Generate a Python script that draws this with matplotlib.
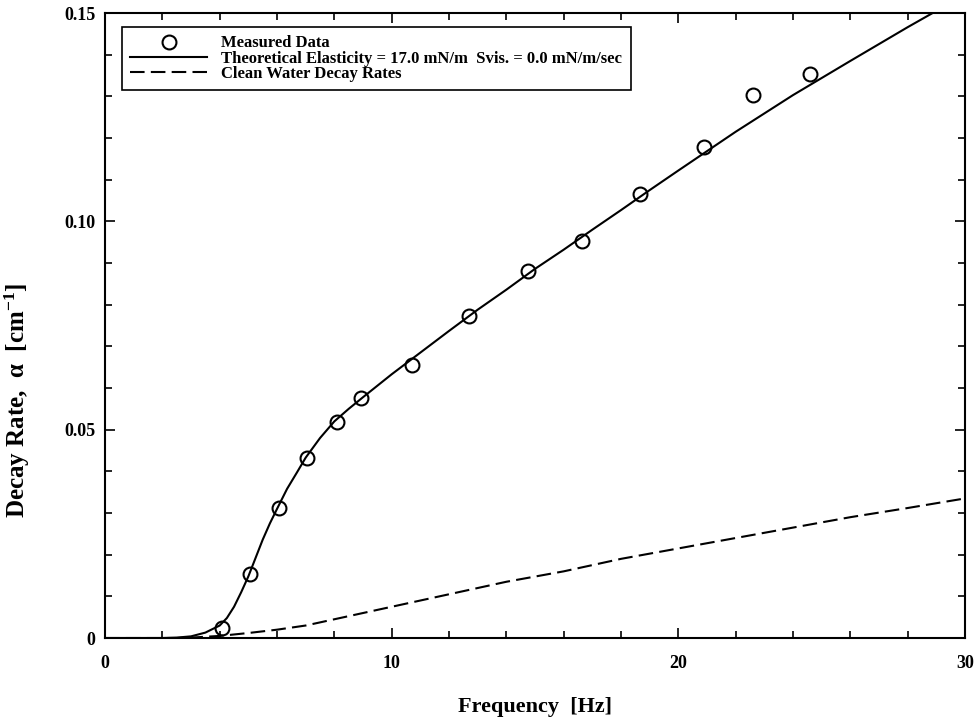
import numpy as np
import matplotlib
matplotlib.use('Agg')
import matplotlib.pyplot as plt
from matplotlib.ticker import MultipleLocator

# measured decay rates
meas_freq = [4.08, 5.06, 6.07, 7.05, 8.09, 8.93, 10.71, 12.7, 14.75, 16.64, 18.66, 20.89, 22.6, 24.59]
meas_rate = [0.0024, 0.0154, 0.0313, 0.0433, 0.0519, 0.0575, 0.0656, 0.0774, 0.088, 0.0952, 0.1065, 0.1178, 0.1303, 0.1353]

# theoretical curve (elasticity 17.0 mN/m)
theo_freq = [0, 2.0, 2.5, 3.0, 3.5, 4.0, 4.25, 4.5, 4.75, 5.0, 5.25, 5.5, 5.75, 6.0, 6.35, 6.7, 7.0,
             7.5, 8.0, 8.5, 9.0, 10.0, 11.0, 12.0, 13.0, 14.0, 15.0, 16.0, 17.0, 18.0, 19.0, 20.0,
             22.0, 24.0, 26.0, 28.0, 29.0]
theo_rate = [0, 0, 0.0001, 0.0004, 0.0013, 0.003, 0.0048, 0.0075, 0.011, 0.0148, 0.0192, 0.0236, 0.0275,
             0.031, 0.0358, 0.0398, 0.0433, 0.048, 0.052, 0.055, 0.0578, 0.0633, 0.0685, 0.0737, 0.0788,
             0.0836, 0.0886, 0.0932, 0.098, 0.1027, 0.1075, 0.1122, 0.1215, 0.1303, 0.1385, 0.1466, 0.1505]

# clean water decay rates
clean_freq = [0, 2.5, 3.0, 4.0, 5.0, 6.0, 7.0, 8.0, 10.0, 12.0, 14.0, 16.0, 18.0, 20.0, 22.0, 24.0, 26.0, 28.0, 30.0]
clean_rate = [0, 0, 0.0001, 0.0005, 0.0012, 0.002, 0.003, 0.0045, 0.0075, 0.0105, 0.0135, 0.016,
              0.019, 0.0215, 0.024, 0.0265, 0.029, 0.0312, 0.0335]

plt.rcParams['font.family'] = ['Liberation Serif', 'DejaVu Serif']
plt.rcParams['font.weight'] = 'bold'
plt.rcParams['mathtext.fontset'] = 'custom'
plt.rcParams['mathtext.rm'] = 'Liberation Serif:bold'
plt.rcParams['mathtext.default'] = 'rm'

fig = plt.figure(figsize=(9.79, 7.27), dpi=100)
ax = fig.add_axes([0.1073, 0.1224, 0.8784, 0.8597])

ax.plot(meas_freq, meas_rate, 'o', mfc='none', mec='black', ms=10, mew=1.5, label='Measured Data')
ax.plot(theo_freq, theo_rate, '-', color='black', lw=1.5,
        label='Theoretical Elasticity = 17.0 mN/m  Svis. = 0.0 mN/m/sec')
ax.plot(clean_freq, clean_rate, '--', color='black', lw=1.5, dashes=(7, 3), label='Clean Water Decay Rates')

ax.set_xlim(0, 30)
ax.set_ylim(0, 0.15)
ax.set_xticks([0, 10, 20, 30])
ax.set_xticklabels(['0', '10', '20', '30'])
ax.set_yticks([0, 0.05, 0.10, 0.15])
ax.set_yticklabels(['0', '0.05', '0.10', '0.15'])
ax.xaxis.set_minor_locator(MultipleLocator(2))
ax.yaxis.set_minor_locator(MultipleLocator(0.01))
ax.tick_params(which='both', direction='in', top=True, right=True, labelsize=13, width=1.2)
ax.tick_params(which='major', length=7)
ax.tick_params(which='minor', length=5)
ax.tick_params(axis='x', which='major', pad=12)
ax.tick_params(axis='y', which='major', pad=7)
for s in ax.spines.values():
    s.set_linewidth(1.5)

ax.set_xlabel('Frequency  [Hz]', fontsize=16, fontweight='bold', labelpad=18)
ax.set_ylabel('Decay Rate,  α  [cm$^{-1}$]', fontsize=18, fontweight='bold')
ax.yaxis.set_label_coords(-0.085, 0.38)

leg = ax.legend(loc='upper left', bbox_to_anchor=(0.0198, 0.9776), borderaxespad=0, fontsize=12,
                frameon=True, fancybox=False, edgecolor='black', framealpha=1, labelspacing=-0.05,
                handlelength=4.6, handletextpad=0.85, borderpad=0.5)
leg.get_frame().set_linewidth(1.2)

fig.savefig('out.png', dpi=100)
